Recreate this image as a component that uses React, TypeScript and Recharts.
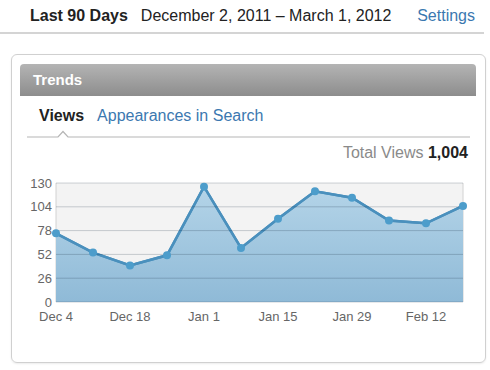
import { Area, AreaChart, CartesianGrid, ReferenceLine, XAxis, YAxis } from "recharts";

const weeks = ["Dec 4", "Dec 11", "Dec 18", "Dec 25", "Jan 1", "Jan 8", "Jan 15", "Jan 22", "Jan 29", "Feb 5", "Feb 12", "Feb 19"];
const views = [75, 54, 40, 51, 126, 59, 91, 121, 114, 89, 86, 105];
const yTicks = [0, 26, 52, 78, 104, 130];

const data = weeks.map((week, i) => ({ week, views: views[i] }));

const font = '"Liberation Sans", Arial, Helvetica, sans-serif';

export default function App() {
  return (
    <div style={{ position: "absolute", left: 0, top: 0, width: 490, height: 370, background: "#fff", fontFamily: font, overflow: "hidden" }}>
      {/* top header */}
      <div style={{ position: "absolute", left: 30, top: 7, fontSize: 16, color: "#222", whiteSpace: "nowrap" }}>
        <span style={{ fontWeight: "bold" }}>Last 90 Days</span>
        <span style={{ marginLeft: 13 }}>December 2, 2011 – March 1, 2012</span>
      </div>
      <div style={{ position: "absolute", right: 15, top: 7, fontSize: 16, color: "#3b78b0" }}>Settings</div>
      <div style={{ position: "absolute", left: 0, top: 32, width: 484, height: 2, background: "#d4d4d4" }} />

      {/* card */}
      <div
        style={{
          position: "absolute",
          left: 11,
          top: 54,
          width: 473,
          height: 307,
          border: "1px solid #d0d0d0",
          borderRadius: 6,
          boxShadow: "0 1px 2px rgba(0,0,0,0.08)",
        }}
      />
      <div
        style={{
          position: "absolute",
          left: 20,
          top: 64,
          width: 456,
          height: 32,
          borderRadius: "4px 4px 0 0",
          background: "linear-gradient(#b4b4b4, #8d8d8d)",
          color: "#fff",
          fontWeight: "bold",
          fontSize: 15,
          lineHeight: "32px",
          paddingLeft: 13,
          boxSizing: "border-box",
        }}
      >
        Trends
      </div>

      {/* tabs */}
      <div style={{ position: "absolute", left: 39, top: 107, fontSize: 16, whiteSpace: "nowrap" }}>
        <span style={{ fontWeight: "bold", color: "#222" }}>Views</span>
        <span style={{ marginLeft: 13, color: "#3b78b0" }}>Appearances in Search</span>
      </div>
      <svg style={{ position: "absolute", left: 0, top: 125 }} width={490} height={16}>
        <polyline points="27,12 58,12 63,6.5 68,12 470,12" fill="#fff" stroke="#b5b5b5" strokeWidth={1.2} />
      </svg>

      {/* total */}
      <div style={{ position: "absolute", right: 22, top: 144, fontSize: 16, color: "#8a8a8a", whiteSpace: "nowrap" }}>
        Total Views <span style={{ fontWeight: "bold", color: "#222" }}>1,004</span>
      </div>

      <div style={{ position: "absolute", left: 0, top: 170 }}>
        <AreaChart width={490} height={170} data={data} margin={{ top: 13, right: 27, left: 6, bottom: 8 }}>
          <defs>
            <linearGradient id="viewsFill" x1="0" y1="0" x2="0" y2="1">
              <stop offset="0%" stopColor="#b4d4e8" />
              <stop offset="100%" stopColor="#8fbad7" />
            </linearGradient>
          </defs>
          <CartesianGrid
            fill="#f3f3f3"
            stroke="#d2d2d2"
            horizontal={false}
            verticalCoordinatesGenerator={({ offset }: any) => [offset.left, offset.left + offset.width]}
          />
          <XAxis
            dataKey="week"
            interval={1}
            axisLine={false}
            tickLine={false}
            tickSize={4}
            tickMargin={6}
            height={30}
            tick={{ fill: "#666", fontSize: 13, fontFamily: font }}
          />
          <YAxis
            domain={[0, 130]}
            ticks={yTicks}
            axisLine={false}
            tickLine={false}
            tickSize={4}
            tickMargin={0}
            width={50}
            tick={{ fill: "#666", fontSize: 13, fontFamily: font }}
          />
          <Area
            type="linear"
            dataKey="views"
            stroke="#4a90bd"
            strokeWidth={2.5}
            fill="url(#viewsFill)"
            fillOpacity={1}
            dot={false}
            activeDot={false}
            isAnimationActive={false}
          />
          {yTicks.map((t) => (
            <ReferenceLine key={t} y={t} stroke="#0a2030" strokeOpacity={0.2} strokeWidth={1} />
          ))}
          <Area
            type="linear"
            dataKey="views"
            stroke="#4a90bd"
            strokeWidth={2.5}
            fill="none"
            dot={{ r: 4, fill: "#4d9dcb", stroke: "#4d9dcb", strokeWidth: 0, fillOpacity: 1 }}
            activeDot={false}
            isAnimationActive={false}
          />
        </AreaChart>
      </div>
    </div>
  );
}
